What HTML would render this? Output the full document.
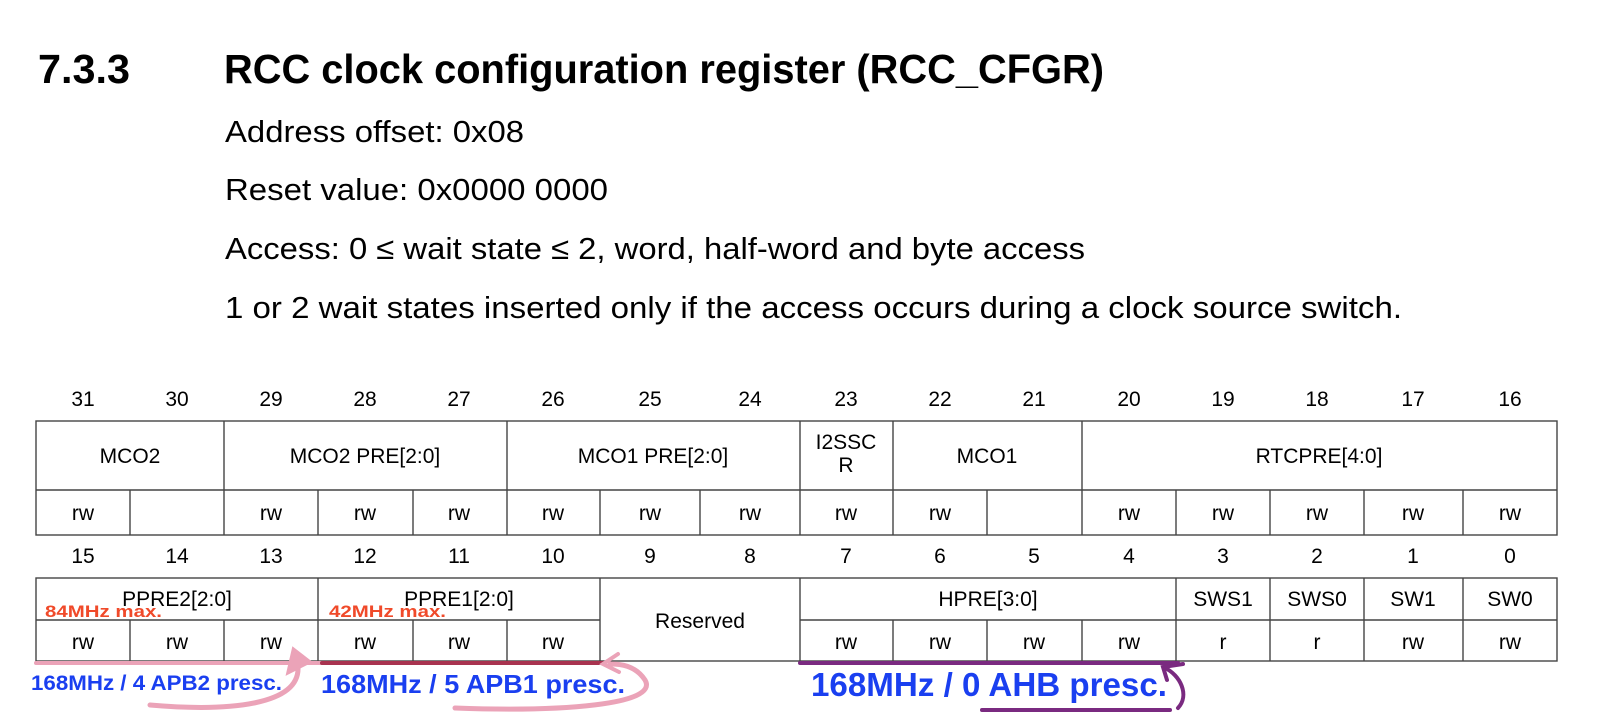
<!DOCTYPE html>
<html><head><meta charset="utf-8"><style>
html,body{margin:0;padding:0;background:#fff;}
svg{display:block;}
</style></head><body>
<svg width="1610" height="720" viewBox="0 0 1610 720" xmlns="http://www.w3.org/2000/svg" font-family="Liberation Sans, Arial, sans-serif">
<rect width="1610" height="720" fill="#fff"/>
<g font-weight="bold" font-size="41" fill="#000">
<text x="38" y="83" textLength="92" lengthAdjust="spacingAndGlyphs">7.3.3</text>
<text x="224" y="83" textLength="880" lengthAdjust="spacingAndGlyphs">RCC clock configuration register (RCC_CFGR)</text>
</g>
<g font-size="31" fill="#000">
<text x="225" y="142" textLength="299" lengthAdjust="spacingAndGlyphs">Address offset: 0x08</text>
<text x="225" y="200" textLength="383" lengthAdjust="spacingAndGlyphs">Reset value: 0x0000 0000</text>
<text x="225" y="259" textLength="860" lengthAdjust="spacingAndGlyphs">Access: 0 ≤ wait state ≤ 2, word, half-word and byte access</text>
<text x="225" y="318" textLength="1177" lengthAdjust="spacingAndGlyphs">1 or 2 wait states inserted only if the access occurs during a clock source switch.</text>
</g>
<g font-size="21" fill="#000" text-anchor="middle">
<text x="83" y="406">31</text><text x="177" y="406">30</text><text x="271" y="406">29</text><text x="365" y="406">28</text>
<text x="459" y="406">27</text><text x="553" y="406">26</text><text x="650" y="406">25</text><text x="750" y="406">24</text>
<text x="846" y="406">23</text><text x="940" y="406">22</text><text x="1034" y="406">21</text><text x="1129" y="406">20</text>
<text x="1223" y="406">19</text><text x="1317" y="406">18</text><text x="1413" y="406">17</text><text x="1510" y="406">16</text>
<text x="83" y="563">15</text><text x="177" y="563">14</text><text x="271" y="563">13</text><text x="365" y="563">12</text>
<text x="459" y="563">11</text><text x="553" y="563">10</text><text x="650" y="563">9</text><text x="750" y="563">8</text>
<text x="846" y="563">7</text><text x="940" y="563">6</text><text x="1034" y="563">5</text><text x="1129" y="563">4</text>
<text x="1223" y="563">3</text><text x="1317" y="563">2</text><text x="1413" y="563">1</text><text x="1510" y="563">0</text>
</g>
<g stroke="#444" stroke-width="1.4" fill="none">
<rect x="36" y="421" width="1521" height="114"/>
<line x1="36" y1="490" x2="1557" y2="490"/>
<line x1="224" y1="421" x2="224" y2="535"/><line x1="507" y1="421" x2="507" y2="535"/>
<line x1="800" y1="421" x2="800" y2="535"/><line x1="893" y1="421" x2="893" y2="535"/>
<line x1="1082" y1="421" x2="1082" y2="535"/>
<line x1="130" y1="490" x2="130" y2="535"/><line x1="318" y1="490" x2="318" y2="535"/>
<line x1="413" y1="490" x2="413" y2="535"/><line x1="600" y1="490" x2="600" y2="535"/>
<line x1="700" y1="490" x2="700" y2="535"/><line x1="987" y1="490" x2="987" y2="535"/>
<line x1="1176" y1="490" x2="1176" y2="535"/><line x1="1270" y1="490" x2="1270" y2="535"/>
<line x1="1364" y1="490" x2="1364" y2="535"/><line x1="1463" y1="490" x2="1463" y2="535"/>
<rect x="36" y="578" width="1521" height="83"/>
<line x1="36" y1="620" x2="600" y2="620"/><line x1="800" y1="620" x2="1557" y2="620"/>
<line x1="318" y1="578" x2="318" y2="661"/><line x1="600" y1="578" x2="600" y2="661"/>
<line x1="800" y1="578" x2="800" y2="661"/><line x1="1176" y1="578" x2="1176" y2="661"/>
<line x1="1270" y1="578" x2="1270" y2="661"/><line x1="1364" y1="578" x2="1364" y2="661"/>
<line x1="1463" y1="578" x2="1463" y2="661"/>
<line x1="130" y1="620" x2="130" y2="661"/><line x1="224" y1="620" x2="224" y2="661"/>
<line x1="413" y1="620" x2="413" y2="661"/><line x1="507" y1="620" x2="507" y2="661"/>
<line x1="893" y1="620" x2="893" y2="661"/><line x1="987" y1="620" x2="987" y2="661"/>
<line x1="1082" y1="620" x2="1082" y2="661"/>
</g>
<g font-size="21" fill="#000" text-anchor="middle">
<text x="130" y="463">MCO2</text><text x="365" y="463">MCO2 PRE[2:0]</text><text x="653" y="463">MCO1 PRE[2:0]</text>
<text x="846" y="449">I2SSC</text><text x="846" y="472">R</text><text x="987" y="463">MCO1</text><text x="1319" y="463">RTCPRE[4:0]</text>
<text x="83" y="520">rw</text><text x="271" y="520">rw</text><text x="365" y="520">rw</text><text x="459" y="520">rw</text>
<text x="553" y="520">rw</text><text x="650" y="520">rw</text><text x="750" y="520">rw</text><text x="846" y="520">rw</text>
<text x="940" y="520">rw</text><text x="1129" y="520">rw</text><text x="1223" y="520">rw</text><text x="1317" y="520">rw</text>
<text x="1413" y="520">rw</text><text x="1510" y="520">rw</text>
<text x="177" y="606">PPRE2[2:0]</text><text x="459" y="606">PPRE1[2:0]</text><text x="700" y="628">Reserved</text>
<text x="988" y="606">HPRE[3:0]</text><text x="1223" y="606">SWS1</text><text x="1317" y="606">SWS0</text>
<text x="1413" y="606">SW1</text><text x="1510" y="606">SW0</text>
<text x="83" y="649">rw</text><text x="177" y="649">rw</text><text x="271" y="649">rw</text><text x="365" y="649">rw</text>
<text x="459" y="649">rw</text><text x="553" y="649">rw</text><text x="846" y="649">rw</text><text x="940" y="649">rw</text>
<text x="1034" y="649">rw</text><text x="1129" y="649">rw</text><text x="1223" y="649">r</text><text x="1317" y="649">r</text>
<text x="1413" y="649">rw</text><text x="1510" y="649">rw</text>
</g>
<g font-size="17" font-weight="bold" fill="#f04a2a">
<text x="45" y="617" textLength="117" lengthAdjust="spacingAndGlyphs">84MHz max.</text>
<text x="329" y="617" textLength="117" lengthAdjust="spacingAndGlyphs">42MHz max.</text>
</g>
<g fill="none" stroke-linecap="round">
<line x1="36" y1="663" x2="322" y2="663" stroke="#eba3b8" stroke-width="4"/>
<line x1="322" y1="663" x2="603" y2="663" stroke="#a8334f" stroke-width="4"/>
<line x1="800" y1="663" x2="1178" y2="663" stroke="#7a2a80" stroke-width="4"/>
<path d="M150,705 C230,712 300,705 298,667" stroke="#eba3b8" stroke-width="5"/>
<path d="M287,674 L293,648 L311,662 Z" fill="#eba3b8" stroke="#eba3b8" stroke-width="2"/>
<path d="M455,708 C560,712 660,705 645,680 C635,665 620,664 610,664" stroke="#eba3b8" stroke-width="5"/>
<path d="M618,654 L603,664 L619,672" stroke="#eba3b8" stroke-width="4"/>
<line x1="982" y1="710" x2="1170" y2="710" stroke="#7a2a80" stroke-width="4"/>
<path d="M1178,708 C1190,695 1180,675 1165,668" stroke="#7a2a80" stroke-width="4"/>
<path d="M1167,680 L1163,667 L1183,664" stroke="#7a2a80" stroke-width="4"/>
</g>
<g font-weight="bold" fill="#1a3ff0">
<text x="31" y="690" font-size="21" textLength="251" lengthAdjust="spacingAndGlyphs">168MHz / 4 APB2 presc.</text>
<text x="321" y="693" font-size="26" textLength="304" lengthAdjust="spacingAndGlyphs">168MHz / 5 APB1 presc.</text>
<text x="811" y="696" font-size="33" textLength="356" lengthAdjust="spacingAndGlyphs">168MHz / 0 AHB presc.</text>
</g>
</svg>
</body></html>
